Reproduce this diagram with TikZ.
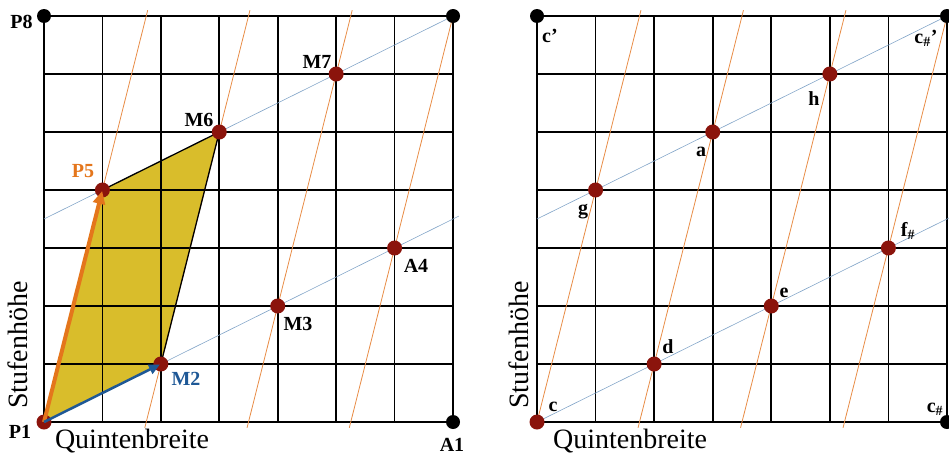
\documentclass[tikz,border=0pt]{standalone}
\usepackage{fontspec}
\setmainfont{Liberation Serif}
\usetikzlibrary{arrows.meta}
\definecolor{dotred}{RGB}{139,20,12}
\definecolor{gold}{RGB}{217,189,43}
\definecolor{orangeL}{RGB}{232,140,70}
\definecolor{orangeA}{RGB}{228,118,28}
\definecolor{blueL}{RGB}{130,165,200}
\definecolor{blueA}{RGB}{30,88,150}
\tikzset{
  gridline/.style={line width=1.8pt, black},
  oline/.style={orangeL, line width=0.8pt},
  bline/.style={blueL, line width=0.6pt},
  edgeline/.style={black, line width=1.3pt},
  rdot/.style={circle, fill=dotred, inner sep=0pt, minimum size=15pt},
  kdot/.style={circle, fill=black, inner sep=0pt, minimum size=14pt},
  lab/.style={font=\fontsize{20}{20}\selectfont\bfseries, inner sep=0pt},
  big/.style={font=\fontsize{28}{28}\selectfont, inner sep=0pt},
}
\begin{document}
\begin{tikzpicture}[x=1pt,y=-1pt]
\useasboundingbox (0,0) rectangle (949,455);
% ---------------- left panel ----------------
\begin{scope}[shift={(44pt,-422pt)}, x=58.43pt, y=58pt]
  \coordinate (P1) at (0,0);
  \coordinate (M2) at (2,1);
  \coordinate (M3) at (4,2);
  \coordinate (A4) at (6,3);
  \coordinate (P5) at (1,4);
  \coordinate (M6) at (3,5);
  \coordinate (M7) at (5,6);
  \coordinate (P8) at (0,7);
  \coordinate (TR) at (7,7);
  \coordinate (A1) at (7,0);
  \coordinate (Lo1) at (1.775,7.1);
  \coordinate (Lo2a) at (1.725,-0.1);
  \coordinate (Lo2b) at (3.525,7.1);
  \coordinate (Lo3a) at (3.475,-0.1);
  \coordinate (Lo3b) at (5.275,7.1);
  \coordinate (Lo4a) at (5.225,-0.1);
  \coordinate (Lb1) at (7.1,3.55);
  \coordinate (Lb2) at (0,3.5);
  \fill[gold] (P1) -- (M2) -- (M6) -- (P5) -- cycle;
  \draw[gridline, step=1] (0,0) grid (7,7);
  \draw[oline] (P1) -- (Lo1);
  \draw[oline] (Lo2a) -- (Lo2b);
  \draw[oline] (Lo3a) -- (Lo3b);
  \draw[oline] (Lo4a) -- (TR);
  \draw[bline] (P1) -- (Lb1);
  \draw[bline] (Lb2) -- (TR);
  \draw[edgeline] (P5) -- (M6) -- (M2);
  \foreach \p in {P1,M2,M3,A4,P5,M6,M7} \node[rdot] (d\p) at (\p) {};
  \foreach \p in {P8,TR,A1} \node[kdot] (d\p) at (\p) {};
  \draw[orangeA, line width=4pt, -{Triangle[length=13pt,width=12pt]}, shorten >=1pt] (P1) -- (P5);
  \draw[blueA, line width=2.5pt, -{Triangle[length=11pt,width=10pt]}, shorten >=1pt] (P1) -- (M2);
\end{scope}
% ---------------- right panel ----------------
\begin{scope}[shift={(537pt,-422pt)}, x=58.57pt, y=58pt]
  \coordinate (c) at (0,0);
  \coordinate (d) at (2,1);
  \coordinate (e) at (4,2);
  \coordinate (fis) at (6,3);
  \coordinate (g) at (1,4);
  \coordinate (a) at (3,5);
  \coordinate (h) at (5,6);
  \coordinate (cp) at (0,7);
  \coordinate (cisp) at (7,7);
  \coordinate (cis) at (7,0);
  \coordinate (Ro1) at (1.775,7.1);
  \coordinate (Ro2a) at (1.725,-0.1);
  \coordinate (Ro2b) at (3.525,7.1);
  \coordinate (Ro3a) at (3.475,-0.1);
  \coordinate (Ro3b) at (5.275,7.1);
  \coordinate (Ro4a) at (5.225,-0.1);
  \coordinate (Rb1) at (7.1,3.55);
  \coordinate (Rb2) at (0,3.5);
  \draw[gridline, step=1] (0,0) grid (7,7);
  \draw[oline] (c) -- (Ro1);
  \draw[oline] (Ro2a) -- (Ro2b);
  \draw[oline] (Ro3a) -- (Ro3b);
  \draw[oline] (Ro4a) -- (cisp);
  \draw[bline] (c) -- (Rb1);
  \draw[bline] (Rb2) -- (cisp);
  \foreach \p in {c,d,e,fis,g,a,h} \node[rdot] (d\p) at (\p) {};
  \foreach \p in {cp,cisp,cis} \node[kdot] (d\p) at (\p) {};
\end{scope}
% ---------------- labels left ----------------
\node[lab] (tP8) at (21.5,22) {P8};
\node[lab] (tM6) at (199,120) {M6};
\node[lab] (tM7) at (317,62) {M7};
\node[lab, text=orangeA] (tP5) at (83,171) {P5};
\node[lab, text=blueA] (tM2) at (186,379) {M2};
\node[lab] (tM3) at (298,324) {M3};
\node[lab] (tA4) at (416,266) {A4};
\node[lab] (tP1) at (20,432) {P1};
\node[lab] (tA1) at (452,445) {A1};
\node[big, rotate=90] (tSl) at (18,345) {Stufenhöhe};
\node[big] (tQl) at (132,441) {Quintenbreite};
% ---------------- labels right ----------------
\node[lab] (tcp) at (550,36) {c’};
\node[lab] (tcisp) at (926,38) {c\textsubscript{\#}’};
\node[lab] (th) at (814,99) {h};
\node[lab] (ta) at (701,152) {a};
\node[lab] (tg) at (583,212) {g};
\node[lab] (tfis) at (908,231) {f\textsubscript{\#}};
\node[lab] (te) at (784,293) {e};
\node[lab] (td) at (668,347) {d};
\node[lab] (tc) at (553,407) {c};
\node[lab] (tcis) at (935,409) {c\textsubscript{\#}};
\node[big, rotate=90] (tSr) at (519,345) {Stufenhöhe};
\node[big] (tQr) at (630,441) {Quintenbreite};
\end{tikzpicture}
\end{document}
